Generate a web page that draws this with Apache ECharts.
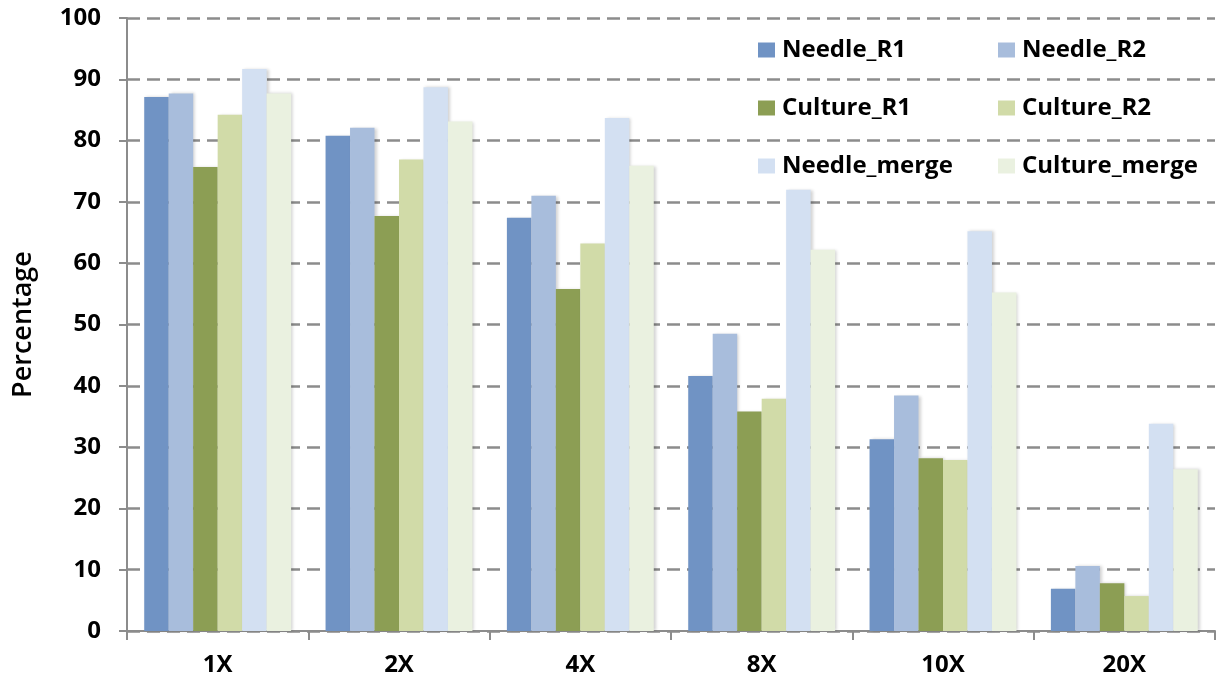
<!DOCTYPE html>
<html>
<head>
<meta charset="utf-8">
<script src="https://cdn.jsdelivr.net/npm/echarts@6/dist/echarts.min.js"></script>
<style>
  html, body { margin: 0; padding: 0; background: #fff; }
  #chart { width: 1216px; height: 686px; }
</style>
</head>
<body>
<div id="chart"></div>
<script>
// Coverage categories (x axis)
const categories = ['1X', '2X', '4X', '8X', '10X', '20X'];

// Percentage per coverage for each run
const needleR1     = [87.1, 80.8, 67.4, 41.6, 31.3, 6.9];
const needleR2     = [87.7, 82.1, 71.0, 48.5, 38.4, 10.6];
const cultureR1    = [75.7, 67.7, 55.8, 35.8, 28.2, 7.8];
const cultureR2    = [84.2, 76.9, 63.2, 37.9, 27.9, 5.7];
const needleMerge  = [91.7, 88.7, 83.7, 72.0, 65.2, 33.8];
const cultureMerge = [87.7, 83.1, 75.9, 62.2, 55.2, 26.4];

const seriesNames = ['Needle_R1', 'Needle_R2', 'Culture_R1', 'Culture_R2', 'Needle_merge', 'Culture_merge'];
const seriesData = [needleR1, needleR2, cultureR1, cultureR2, needleMerge, cultureMerge];
const seriesColors = ['#7093c4', '#a8bddc', '#8c9e54', '#d1dba8', '#d3e0f2', '#eaf1e0'];

const FONT = '"Open Sans", Lato, sans-serif';

const chart = echarts.init(document.getElementById('chart'), null, { renderer: 'canvas' });

const legendBase = {
  orient: 'vertical',
  top: 33,
  itemWidth: 17,
  itemHeight: 15,
  itemGap: 34,
  icon: 'rect',
  textStyle: { fontFamily: FONT, fontWeight: 'bold', fontSize: 24, color: '#000', lineHeight: 24, padding: [0, 0, 0, 2] }
};

chart.setOption({
  animation: false,
  backgroundColor: '#ffffff',
  color: seriesColors,
  grid: { left: 127, right: 1, top: 18, bottom: 55, containLabel: false },
  legend: [
    Object.assign({}, legendBase, { left: 753, data: ['Needle_R1', 'Culture_R1', 'Needle_merge'] }),
    Object.assign({}, legendBase, { left: 993, data: ['Needle_R2', 'Culture_R2', 'Culture_merge'] })
  ],
  xAxis: {
    type: 'category',
    data: categories,
    boundaryGap: true,
    axisLine: { show: true, lineStyle: { color: '#8c8c8c', width: 2 } },
    axisTick: { show: true, alignWithLabel: false, length: 9, lineStyle: { color: '#8c8c8c', width: 2 } },
    axisLabel: { fontFamily: FONT, fontWeight: 'bold', fontSize: 24, color: '#000', margin: 22 },
    splitLine: { show: false }
  },
  yAxis: {
    type: 'value',
    min: 0,
    max: 100,
    interval: 10,
    name: 'Percentage',
    nameLocation: 'middle',
    nameGap: 90,
    nameRotate: 90,
    nameTextStyle: { fontFamily: FONT, fontWeight: 600, fontSize: 27, color: '#000' },
    axisLine: { show: true, lineStyle: { color: '#8c8c8c', width: 2 } },
    axisTick: { show: true, length: 8, lineStyle: { color: '#8c8c8c', width: 2 } },
    axisLabel: { fontFamily: FONT, fontWeight: 'bold', fontSize: 24, color: '#000', margin: 26 },
    splitLine: { show: true, lineStyle: { color: '#8c8c8c', width: 2.5, type: [13, 7] } }
  },
  series: seriesNames.map((name, i) => ({
    name: name,
    type: 'bar',
    data: seriesData[i],
    barGap: '0%',
    barCategoryGap: '19%',
    itemStyle: {
      color: seriesColors[i],
      shadowColor: 'rgba(0,0,0,0.18)',
      shadowBlur: 3,
      shadowOffsetX: 2,
      shadowOffsetY: 0
    }
  }))
});
</script>
</body>
</html>
